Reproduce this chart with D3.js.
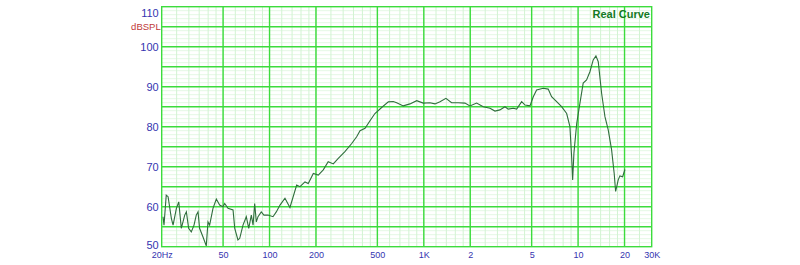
<!DOCTYPE html>
<html><head><meta charset="utf-8">
<script src="https://cdn.jsdelivr.net/npm/d3@7"></script>
<style>body{margin:0;background:#fff}svg{display:block}</style>
</head><body><svg id="c" width="800" height="265"></svg>
<script>
const freqs = [20.4,20.7,21.4,22.0,23.1,23.7,24.9,25.8,26.8,28.2,28.9,29.9,31.1,32.4,33.5,34.4,35.2,37.0,38.9,39.9,40.9,43.0,45.2,47.5,49.9,51.2,53.8,58.0,59.5,62.4,64.1,67.3,70.7,73.3,76.2,78.2,80.1,82.1,84.2,88.4,92.0,97.7,105.3,110.6,116.9,125.9,135.6,149.9,157.5,169.7,178.3,192.2,207,223,240,259,279,308,341,367,386,416,448,482,533,589,634,667,736,813,899,992,1096,1181,1273,1391,1514,1671,1848,1990,2199,2428,2685,2892,3114,3357,3524,3800,3997,4307,4529,4877,5123,5385,5944,6401,6733,7260,7817,8432,8852,9081,9220,9397,9794,10280,10790,11350,11930,12530,13050,13510,14210,14930,15680,16490,17140,17510,18200,18670,19440,20120];
const spl = [57.5,55.4,62.9,62.5,57.1,55.4,59.6,61.2,54.6,57.9,58.7,54.6,53.7,55.4,57.9,58.7,54.6,52.5,50.2,56.2,55.4,59.6,61.9,60.4,60.0,60.8,59.6,59.2,54.6,51.7,52.1,55.4,57.5,54.6,57.9,55.4,60.8,56.2,57.5,58.7,57.9,57.9,57.5,58.7,60.4,62.1,59.8,65.4,65.0,66.2,65.8,68.3,67.9,69.2,71.25,70.7,72.1,73.75,75.8,77.5,79.0,79.6,81.5,83.3,84.8,86.2,86.3,86.0,85.2,85.7,86.5,85.9,86.0,85.7,86.25,87.1,86.0,86.0,85.9,85.2,85.9,85.0,84.6,83.9,84.2,85.0,84.4,84.6,84.4,86.25,85.4,85.2,87.5,89.2,89.6,89.4,87.5,86.25,85.0,83.3,80.0,72.5,66.7,73.4,80.8,85.9,90.9,91.7,93.75,96.7,97.7,96.25,88.3,82.5,79.2,74.2,68.3,63.8,66.7,67.7,67.5,69.3];
const xTickValues = [20,50,100,200,500,1000,2000,5000,10000,20000,30000];
const xTickLabels = ["20Hz","50","100","200","500","1K","2","5","10","20","30K"];
const yTickValues = [50,60,70,80,90,100,110];
const yDomain = [50,110];
const fDomain = [20,30000];

const svg = d3.select("#c");
const L=161.7, R=651.7, T=6.7, B=246.7;
const x = d3.scaleLog().domain(fDomain).range([L,R]);
const y = d3.scaleLinear().domain(yDomain).range([B,T]);

const minorF = [];
for (let dec=10; dec<=10000; dec*=10) {
  for (let m=1; m<2; m+=0.2) minorF.push(m*dec);
  for (let m=2; m<5; m+=0.5) minorF.push(m*dec);
  for (let m=5; m<10; m+=1) minorF.push(m*dec);
}
const minorFv = minorF.map(v=>Math.round(v*1000)/1000).filter(v=>v>20 && v<30000);
const majorF = [50,100,200,500,1000,2000,5000,10000,20000];
const minorY = d3.range(51,110,1).filter(v=>v%5!==0);
const majorY = d3.range(55,110,5);

const g = svg.append("g");
g.selectAll(".mh").data(minorY).join("line")
  .attr("x1",L).attr("x2",R).attr("y1",d=>y(d)).attr("y2",d=>y(d))
  .attr("stroke", d => (d%5===2.5) ? "#cdf2cd" : "#e4f8e4").attr("stroke-width",1);
g.selectAll(".mv").data(minorFv).join("line")
  .attr("x1",d=>x(d)).attr("x2",d=>x(d)).attr("y1",T).attr("y2",B)
  .attr("stroke","#d2f3d2").attr("stroke-width",1);
g.selectAll(".Mv").data(majorF).join("line")
  .attr("x1",d=>x(d)).attr("x2",d=>x(d)).attr("y1",T).attr("y2",B)
  .attr("stroke","#3ddc3d").attr("stroke-width",1.4);
g.selectAll(".Mh").data(majorY).join("line")
  .attr("x1",L).attr("x2",R).attr("y1",d=>y(d)).attr("y2",d=>y(d))
  .attr("stroke","#3ddc3d").attr("stroke-width",1.4);
g.append("rect").attr("x",L).attr("y",T).attr("width",R-L).attr("height",B-T)
  .attr("fill","none").attr("stroke","#3ddc3d").attr("stroke-width",1.4);

const data = freqs.map((f,i)=>[f,spl[i]]);
svg.append("path").datum(data)
  .attr("d", d3.line().x(d=>x(d[0])).y(d=>y(d[1])))
  .attr("fill","none").attr("stroke","#2f6e3c").attr("stroke-width",1.1);

const xAxis = d3.axisBottom(x).tickValues(xTickValues)
  .tickFormat((d,i)=>xTickLabels[i]).tickSize(0).tickPadding(5);
const xa = svg.append("g").attr("transform",`translate(0,${B})`).call(xAxis);
xa.select(".domain").remove();
xa.selectAll("text").attr("fill","#3434b0").attr("font-family","Liberation Sans, Arial, sans-serif").attr("font-size","9px");

const yAxis = d3.axisLeft(y).tickValues(yTickValues).tickSize(0).tickPadding(3);
const ya = svg.append("g").attr("transform",`translate(${L},0)`).call(yAxis);
ya.select(".domain").remove();
ya.selectAll("text").attr("fill","#3434b0").attr("font-family","Liberation Sans, Arial, sans-serif").attr("font-size","11px")
  .attr("dy", d => d===110 ? "0.85em" : d===50 ? "0.15em" : "0.32em");

svg.append("text").attr("x",L-1).attr("y",29.5).attr("text-anchor","end")
  .attr("fill","#c03838").attr("font-family","Liberation Sans, Arial, sans-serif").attr("font-size","9.5px").text("dBSPL");
svg.append("text").attr("x",650).attr("y",17.5).attr("text-anchor","end")
  .attr("fill","#137a1f").attr("font-weight","bold").attr("font-family","Liberation Sans, Arial, sans-serif").attr("font-size","11px").text("Real Curve");
</script></body></html>
